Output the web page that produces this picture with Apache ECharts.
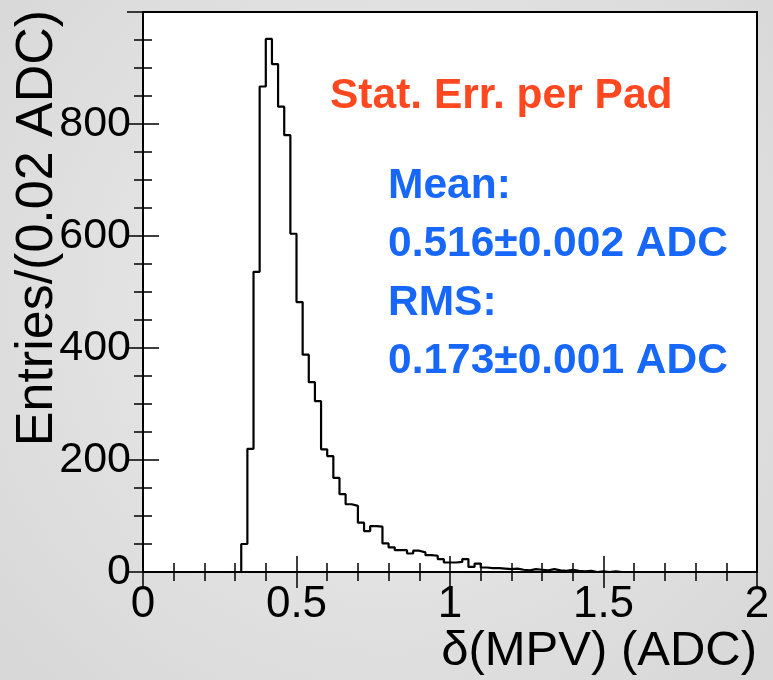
<!DOCTYPE html>
<html>
<head>
<meta charset="utf-8">
<script src="https://cdn.jsdelivr.net/npm/echarts@6/dist/echarts.min.js"></script>
<style>
html,body{margin:0;padding:0;}
#c{width:773px;height:680px;}
</style>
</head>
<body>
<div id="c"></div>
<script>
// Histogram binning
const xMin = 0, xMax = 2, binWidth = 0.02;
// Entries per 0.02 ADC bin (100 bins from 0 to 2)
const counts = [
  0,0,0,0,0,0,0,0,0,0,0,0,0,0,0,0,
  50,220,536,867,952,907,831,780,604,482,388,339,305,219,207,168,139,121,118,88,
  73,82,81,51,44,39,39,33,38,35,30,29,23,17,17,18,23,9,15,8,
  7,7,6,5,6,4,3,5,4,3,5,3,2,4,2,1,2,0,1,0,1,
  0,0,0,0,0,0,0,0,0,0,0,0,0,0,0,0,0,0,0,0,0,0,0
];
const xTicks = ['0','0.5','1','1.5','2'];
const yTicks = ['0','200','400','600','800'];
const titleText = 'Stat. Err. per Pad';
const statLines = ['Mean:', '0.516±0.002 ADC', 'RMS:', '0.173±0.001 ADC'];
const xTitle = 'δ(MPV) (ADC)';
const yTitle = 'Entries/(0.02 ADC)';

const stepData = counts.map((c, i) => [+(xMin + i * binWidth).toFixed(2), c]);
stepData.push([xMax, counts[counts.length - 1]]);

const chart = echarts.init(document.getElementById('c'), null, {renderer: 'canvas'});
const FONT = '"Liberation Sans", Arial, Helvetica, sans-serif';
const orange = '#ff4720';
const blue = '#1767fb';

const tickCommon = {show: true, inside: true, length: 16, lineStyle: {color: '#000', width: 1.5}};
const minorCommon = {show: true, length: 9, lineStyle: {color: '#000', width: 1.5}};

chart.setOption({
  animation: false,
  backgroundColor: {
    type: 'radial', x: 0.5, y: 0.45, r: 0.75,
    colorStops: [{offset: 0, color: '#ededed'}, {offset: 1, color: '#d8d8d8'}]
  },
  grid: {
    left: 143, right: 16, top: 12, bottom: 108,
    show: true, backgroundColor: '#ffffff', borderColor: '#000', borderWidth: 2
  },
  xAxis: [{
    type: 'value', min: xMin, max: xMax, interval: 0.5, position: 'bottom',
    axisLine: {show: true, lineStyle: {color: '#000', width: 2}},
    axisTick: tickCommon,
    minorTick: Object.assign({splitNumber: 5}, minorCommon),
    splitLine: {show: false},
    axisLabel: {
      margin: 11, color: '#000', fontSize: 44, fontFamily: FONT,
      formatter: (v) => { const i = Math.round(v / 0.5); return xTicks[i] !== undefined ? xTicks[i] : ''; }
    }
  }, {
    type: 'value', min: xMin, max: xMax, interval: 0.5, position: 'top',
    axisLine: {show: false},
    axisTick: tickCommon,
    minorTick: Object.assign({splitNumber: 5}, minorCommon),
    splitLine: {show: false},
    axisLabel: {show: false}
  }],
  yAxis: [{
    type: 'value', min: 0, max: 1000, interval: 200, position: 'left',
    axisLine: {show: true, lineStyle: {color: '#000', width: 2}},
    axisTick: tickCommon,
    minorTick: Object.assign({splitNumber: 4}, minorCommon),
    splitLine: {show: false},
    axisLabel: {
      margin: 12, color: '#000', fontSize: 43, fontFamily: FONT,
      formatter: (v) => { const i = Math.round(v / 200); return yTicks[i] !== undefined ? yTicks[i] : ''; }
    }
  }, {
    type: 'value', min: 0, max: 1000, interval: 200, position: 'right',
    axisLine: {show: false},
    axisTick: tickCommon,
    minorTick: Object.assign({splitNumber: 4}, minorCommon),
    splitLine: {show: false},
    axisLabel: {show: false}
  }],
  series: [{
    type: 'line', step: 'end', data: stepData, xAxisIndex: 0, yAxisIndex: 0,
    showSymbol: false, symbol: 'none',
    lineStyle: {color: '#000', width: 2.2}
  }],
  graphic: [
    {type: 'text', left: 330, top: 100 - 25, style: {text: titleText, fill: orange, font: 'bold 42.5px ' + FONT}},
    {type: 'text', left: 388, top: 190 - 25, style: {text: statLines[0], fill: blue, font: 'bold 42.5px ' + FONT}},
    {type: 'text', left: 388, top: 248 - 25, style: {text: statLines[1], fill: blue, font: 'bold 42.5px ' + FONT}},
    {type: 'text', left: 388, top: 307 - 25, style: {text: statLines[2], fill: blue, font: 'bold 42.5px ' + FONT}},
    {type: 'text', left: 388, top: 365 - 25, style: {text: statLines[3], fill: blue, font: 'bold 42.5px ' + FONT}},
    {type: 'text', x: 38, y: 228, rotation: Math.PI / 2,
     style: {text: yTitle, fill: '#000', font: '52px ' + FONT, textAlign: 'center', textVerticalAlign: 'middle'}},
    {type: 'text', x: 757, y: 651,
     style: {text: xTitle, fill: '#000', font: '49px ' + FONT, textAlign: 'right', textVerticalAlign: 'middle'}}
  ]
});
</script>
</body>
</html>
